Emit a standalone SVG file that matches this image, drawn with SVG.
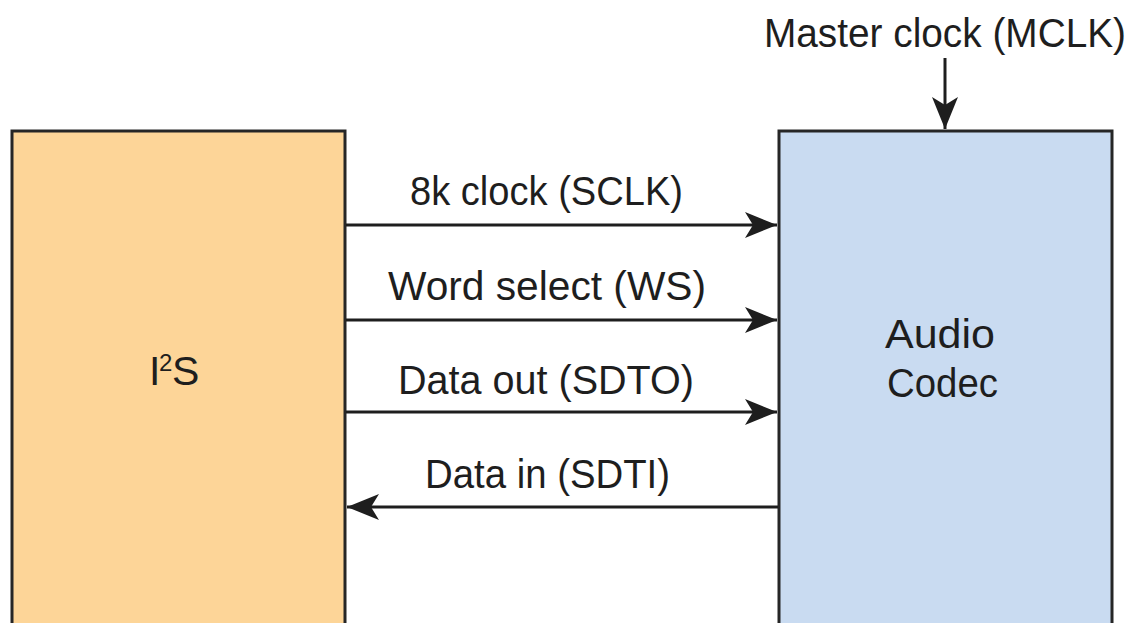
<svg xmlns="http://www.w3.org/2000/svg" width="1134" height="623" viewBox="0 0 1134 623">
<defs>
<marker id="ah" viewBox="0 0 32 26" refX="32" refY="13" markerWidth="32" markerHeight="26" markerUnits="userSpaceOnUse" orient="auto">
<path d="M0,0 L32,13 L0,26 L8,13 Z" fill="#1e1e1e"/>
</marker>
</defs>
<style>
.box{stroke:#262626;stroke-width:3}
.lbl{font-family:"Liberation Sans",Arial,sans-serif;font-size:41px;fill:#1e1e1e;text-anchor:middle}
.wire{stroke:#1e1e1e;stroke-width:3;fill:none;marker-end:url(#ah)}
</style>
<rect width="1134" height="623" fill="#fff"/>
<g id="i2s">
<rect class="box" x="12" y="131" width="333" height="494" fill="#FDD598"/>
<text class="lbl" style="text-anchor:start" x="149" y="385">I<tspan x="159" y="371" font-size="24">2</tspan><tspan x="172" y="385">S</tspan></text>
</g>
<g id="codec">
<rect class="box" x="779" y="131" width="333" height="494" fill="#C9DBF1"/>
<text class="lbl" x="940" y="348" textLength="110" lengthAdjust="spacingAndGlyphs">Audio</text>
<text class="lbl" x="942.5" y="397" textLength="111" lengthAdjust="spacingAndGlyphs">Codec</text>
</g>
<g id="mclk-label">
<text class="lbl" x="945" y="47" textLength="362" lengthAdjust="spacingAndGlyphs">Master clock (MCLK)</text>
</g>
<g id="connectors">
<line class="wire" x1="945" y1="58" x2="945" y2="129"/>
<line class="wire" x1="346" y1="225" x2="777" y2="225"/>
<line class="wire" x1="346" y1="320" x2="777" y2="320"/>
<line class="wire" x1="346" y1="412" x2="777" y2="412"/>
<line class="wire" x1="778" y1="507" x2="347" y2="507"/>
<text class="lbl" x="546.5" y="205" textLength="273" lengthAdjust="spacingAndGlyphs">8k clock (SCLK)</text>
<text class="lbl" x="547" y="300" textLength="318" lengthAdjust="spacingAndGlyphs">Word select (WS)</text>
<text class="lbl" x="546" y="394" textLength="296" lengthAdjust="spacingAndGlyphs">Data out (SDTO)</text>
<text class="lbl" x="547.5" y="488" textLength="245" lengthAdjust="spacingAndGlyphs">Data in (SDTI)</text>
</g>
</svg>
